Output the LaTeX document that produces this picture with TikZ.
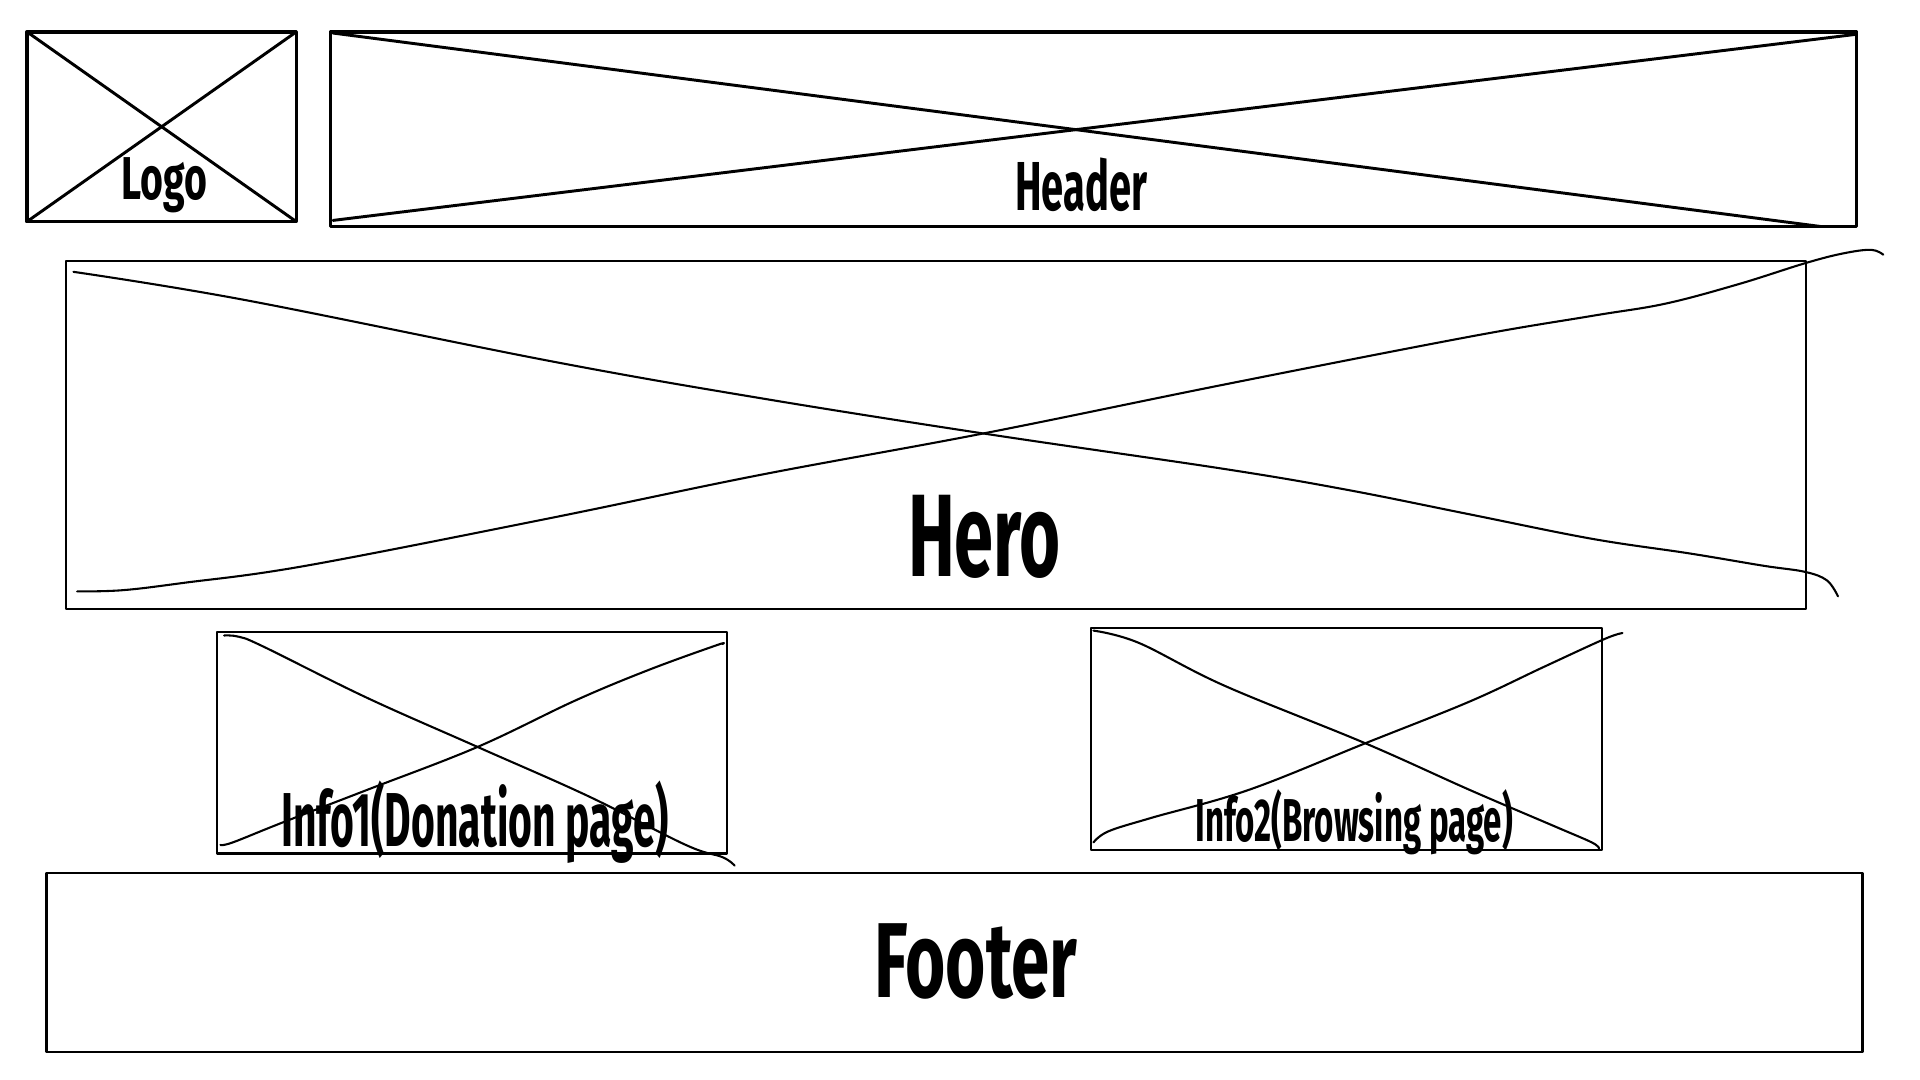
\documentclass[tikz,border=0pt]{standalone}
\usepackage{fontspec}
\newfontfamily\sketchfont{Fira Sans}[FakeStretch=0.6]
\begin{document}
\begin{tikzpicture}[x=0.5pt,y=-0.5pt,line join=round,line cap=round,
  heavy/.style={line width=1.45pt},
  heavyx/.style={line width=1.2pt},
  light/.style={line width=0.85pt},
  lbl/.style={anchor=base,inner sep=0pt,font=\sketchfont\bfseries}]
\useasboundingbox (0,0) rectangle (1568,882);
% Logo
\draw[heavy] (22,26) rectangle (242,181);
\draw[heavyx] (22,26) -- (242,181);
\draw[heavyx] (22,181) -- (242,26);
\node[lbl,font=\sketchfont\bfseries\fontsize{24.7}{28}\selectfont] (logo) at (134,163) {\scalebox{1.08}[1]{Logo}};
% Header
\draw[heavy] (270,26) rectangle (1516,185);
\draw[heavyx] (272,27) -- (1487,185);
\draw[heavyx] (272,180) -- (1516,28);
\node[lbl,font=\sketchfont\bfseries\fontsize{28.3}{32}\selectfont] (header) at (883,172) {\scalebox{0.96}[1]{Header}};
% Hero
\draw[light] (54,213) rectangle (1475,497);
\draw[light] plot[smooth,tension=0.6] coordinates {(60,222) (200,245) (450,295) (620,325) (803,354) (1000,383) (1100,400) (1200,420) (1300,440) (1380,452) (1440,462) (1474,467) (1492,474) (1501,487)};
\draw[light] plot[smooth,tension=0.6] coordinates {(63,483) (100,482) (150,476) (250,462) (450,423) (620,388) (803,354) (1000,314) (1200,275) (1300,258) (1360,248) (1420,232) (1474,215) (1505,207) (1528,204) (1538,208)};
\node[lbl,font=\sketchfont\bfseries\fontsize{47.9}{52}\selectfont] (hero) at (804,471) {Hero};
% Info1
\draw[light] (177,516) rectangle (594,697);
\draw[light] plot[smooth,tension=0.6] coordinates {(183,519) (195,520) (215,528) (300,570) (390,610) (480,650) (560,690) (590,700) (600,707)};
\draw[light] plot[smooth,tension=0.6] coordinates {(180,690) (190,688) (230,672) (300,645) (390,610) (470,572) (530,547) (585,527) (590,526)};
\node[lbl,font=\sketchfont\bfseries\fontsize{31.2}{34}\selectfont] (info1) at (388,691) {\scalebox{0.89}[1]{Info1(Donation page)}};
% Info2
\draw[light] (891,513) rectangle (1308,694);
\draw[light] plot[smooth,tension=0.6] coordinates {(893,515) (930,525) (1000,560) (1115,607) (1200,645) (1270,675) (1300,688) (1306,693)};
\draw[light] plot[smooth,tension=0.6] coordinates {(893,688) (905,679) (940,668) (1020,645) (1115,607) (1200,573) (1260,545) (1310,522) (1325,517)};
\node[lbl,font=\sketchfont\bfseries\fontsize{24.7}{28}\selectfont] (info2) at (1106,687) {\scalebox{0.91}[1]{Info2(Browsing page)}};
% Footer
\draw[light] (38,713) rectangle (1521,859);
\node[lbl,font=\sketchfont\bfseries\fontsize{43.5}{48}\selectfont] (footer) at (797,815) {\scalebox{1.08}[1]{Footer}};
\end{tikzpicture}
\end{document}
